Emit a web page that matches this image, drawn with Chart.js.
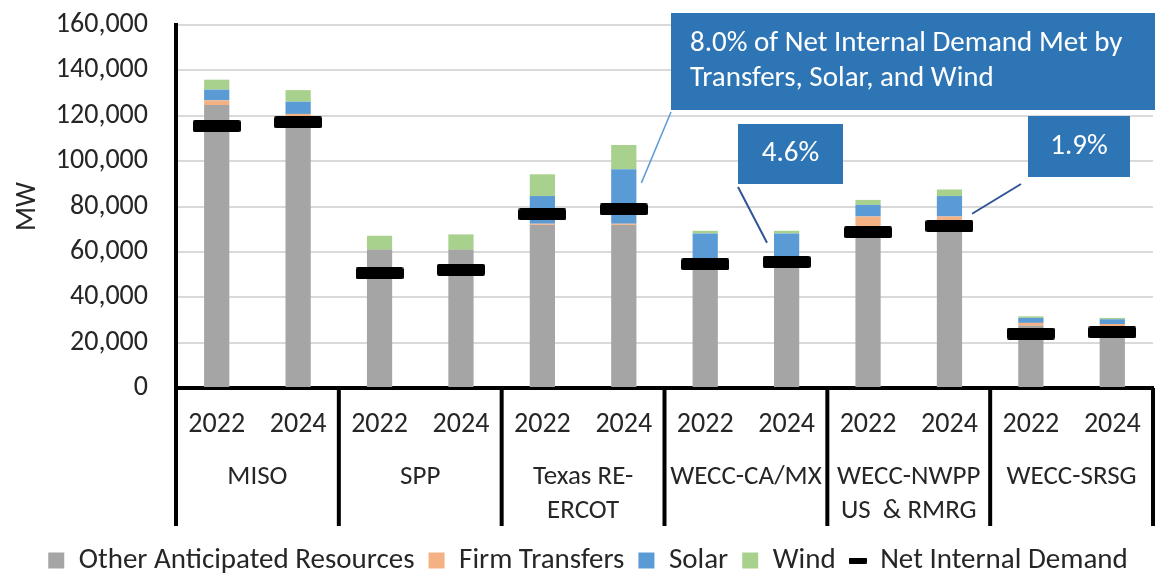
<!DOCTYPE html>
<html>
<head>
<meta charset="utf-8">
<script src="https://cdn.jsdelivr.net/npm/chart.js@4"></script>
<style>
  html, body { margin: 0; padding: 0; background: #fff; overflow: hidden; }
  #wrap { position: relative; width: 1178px; height: 585px; }
</style>
</head>
<body>
<div id="wrap"><canvas id="myChart"></canvas></div>
<script>
const regions = ['MISO', 'SPP', ['Texas RE-', 'ERCOT'], 'WECC-CA/MX', ['WECC-NWPP', 'US  & RMRG'], 'WECC-SRSG'];
const years = ['2022', '2024'];
const xLabels = regions.flatMap(() => years);

// MW, one value per region/year (2022, 2024 pairs)
const otherResources = [124700, 119500, 60900, 60900, 71900, 71900, 57000, 57500, 70500, 74000, 27400, 27000];
const firmTransfers  = [  2100,   1300,     0,     0,   500,   500,   300,     0,  5100,  1600,  1300,  1200];
const solar          = [  4700,   5400,     0,     0, 12200, 24000, 10800, 10600,  5100,  9000,  2200,  2100];
const wind           = [  4400,   5100,  6200,  6800,  9600, 10700,  1200,  1200,  2200,  2900,   700,   600];
const netDemand      = [115400, 117100, 50500, 52100, 76500, 78700, 54500, 55500, 68600, 71400, 24000, 24500];

const yTicks = [0, 20000, 40000, 60000, 80000, 100000, 120000, 140000, 160000];

const FONT = 'Carlito, Calibri, Lato, sans-serif';
const TXT = '#262626';

// callouts: box in page pixels, arrow end tied to a bar
const callouts = [
  { lines: ['8.0% of Net Internal Demand Met by', 'Transfers, Solar, and Wind'], box: [671, 13, 1155, 110], align: 'left',
    from: [671, 112], idx: 5, val: 90400, side: 1, gap: 5, color: '#5B9BD5', width: 1.5 },
  { lines: ['4.6%'], box: [738, 124, 843, 184], align: 'center',
    from: [738, 187], idx: 7, val: 64000, side: -1, gap: 7, color: '#2F5597', width: 2 },
  { lines: ['1.9%'], box: [1028, 116, 1130, 177], align: 'center',
    from: [1021, 184], idx: 9, val: 76800, side: 1, gap: 10, color: '#2F5597', width: 2 }
];

function makeBar(w, h, r) {
  const c = document.createElement('canvas');
  c.width = w; c.height = h;
  const g = c.getContext('2d');
  g.fillStyle = '#000';
  g.beginPath();
  g.roundRect(0, 0, w, h, r);
  g.fill();
  return c;
}
const demandMark = makeBar(48, 12, 2);
const demandLegend = makeBar(18, 6, 1);

const groupLines = {
  id: 'groupLines',
  afterDraw(chart) {
    const ctx = chart.ctx;
    const x = chart.scales.x;
    const x2 = chart.scales.x2;
    const top = chart.chartArea.bottom;
    const bottom = x2.top + 78;
    ctx.save();
    ctx.strokeStyle = '#000';
    ctx.lineWidth = 4;
    for (let g = 0; g <= regions.length; g++) {
      let px;
      if (g === 0) px = chart.chartArea.left;
      else if (g === regions.length) px = chart.chartArea.right;
      else px = (x.getPixelForValue(g * 2 - 1) + x.getPixelForValue(g * 2)) / 2;
      ctx.beginPath();
      ctx.moveTo(px, top);
      ctx.lineTo(px, bottom);
      ctx.stroke();
    }
    ctx.restore();
  }
};

const calloutPlugin = {
  id: 'callouts',
  afterDraw(chart) {
    const ctx = chart.ctx;
    const x = chart.scales.x;
    const y = chart.scales.y;
    const barMeta = chart.getDatasetMeta(0);
    ctx.save();
    callouts.forEach(c => {
      const bar = barMeta.data[c.idx];
      const half = bar.width / 2;
      const tx = x.getPixelForValue(c.idx) + c.side * (half + c.gap);
      const ty = y.getPixelForValue(c.val);
      ctx.strokeStyle = c.color;
      ctx.lineWidth = c.width;
      ctx.beginPath();
      ctx.moveTo(c.from[0], c.from[1]);
      ctx.lineTo(tx, ty);
      ctx.stroke();

      const [x0, y0, x1, y1] = c.box;
      ctx.fillStyle = '#2E75B6';
      ctx.fillRect(x0, y0, x1 - x0, y1 - y0);
      ctx.fillStyle = '#fff';
      ctx.font = '29px ' + FONT;
      ctx.textBaseline = 'middle';
      const lh = 35;
      const startY = (y0 + y1) / 2 - (c.lines.length - 1) * lh / 2;
      c.lines.forEach((t, i) => {
        if (c.align === 'left') {
          ctx.textAlign = 'left';
          ctx.fillText(t, x0 + 19, startY + i * lh);
        } else {
          ctx.textAlign = 'center';
          ctx.fillText(t, (x0 + x1) / 2, startY + i * lh);
        }
      });
    });
    ctx.restore();
  }
};

new Chart('myChart', {
  data: {
    labels: xLabels,
    datasets: [
      { type: 'bar', label: 'Other Anticipated Resources', data: otherResources, backgroundColor: '#A5A5A5', stack: 'res', order: 1 },
      { type: 'bar', label: 'Firm Transfers', data: firmTransfers, backgroundColor: '#F4B183', stack: 'res', order: 1 },
      { type: 'bar', label: 'Solar', data: solar, backgroundColor: '#5B9BD5', stack: 'res', order: 1 },
      { type: 'bar', label: 'Wind', data: wind, backgroundColor: '#A9D18E', stack: 'res', order: 1 },
      { type: 'line', label: 'Net Internal Demand', data: netDemand, showLine: false, stack: 'demand', order: 0,
        pointStyle: demandMark, pointRadius: 24, borderColor: '#000', backgroundColor: '#000' }
    ]
  },
  options: {
    responsive: true,
    maintainAspectRatio: false,
    animation: false,
    layout: { padding: { top: 20, right: 2, left: 0, bottom: 0 } },
    datasets: {
      bar: { barPercentage: 0.31, categoryPercentage: 1 }
    },
    scales: {
      x: {
        stacked: true,
        offset: true,
        weight: 0,
        grid: { display: false, drawTicks: false },
        border: { display: true, color: '#000', width: 4 },
        ticks: { color: TXT, font: { family: FONT, size: 28 }, padding: 20, maxRotation: 0, autoSkip: false },
        afterFit(s) { s.height = 60; s.paddingLeft = 0; s.paddingRight = 0; }
      },
      x2: {
        type: 'category',
        labels: regions,
        position: 'bottom',
        offset: true,
        weight: 1,
        grid: { display: false, drawTicks: false },
        border: { display: false },
        ticks: { color: TXT, font: { family: FONT, size: 27, lineHeight: 1.26 }, padding: 12, maxRotation: 0, autoSkip: false },
        afterFit(s) { s.height = 84; s.paddingLeft = 0; s.paddingRight = 0; }
      },
      y: {
        stacked: true,
        min: 0,
        max: 160000,
        afterBuildTicks(s) { s.ticks = yTicks.map(v => ({ value: v })); },
        grid: { color: '#D9D9D9', lineWidth: 2, drawTicks: false },
        border: { display: true, color: '#000', width: 4 },
        ticks: {
          color: TXT, font: { family: FONT, size: 28 }, padding: 28,
          callback: v => v.toLocaleString('en-US')
        },
        title: { display: true, text: 'MW', color: TXT, font: { family: FONT, size: 28 }, padding: { top: 11, bottom: 0 } },
        afterFit(s) { s.width = 176; s.paddingTop = 0; s.paddingBottom = 0; }
      }
    },
    plugins: {
      tooltip: { enabled: false },
      legend: {
        position: 'bottom',
        labels: {
          usePointStyle: true,
          boxHeight: 16,
          boxWidth: 16,
          padding: 14,
          color: TXT,
          font: { family: FONT, size: 29 },
          sort: (a, b) => a.datasetIndex - b.datasetIndex,
          generateLabels(chart) {
            const items = Chart.defaults.plugins.legend.labels.generateLabels(chart);
            items.forEach(it => {
              if (it.datasetIndex === 4) {
                it.pointStyle = demandLegend;
              } else {
                it.pointStyle = 'rect';
                it.lineWidth = 0;
                it.strokeStyle = 'rgba(0,0,0,0)';
              }
            });
            return items;
          }
        }
      }
    }
  },
  plugins: [groupLines, calloutPlugin]
});
</script>
</body>
</html>
